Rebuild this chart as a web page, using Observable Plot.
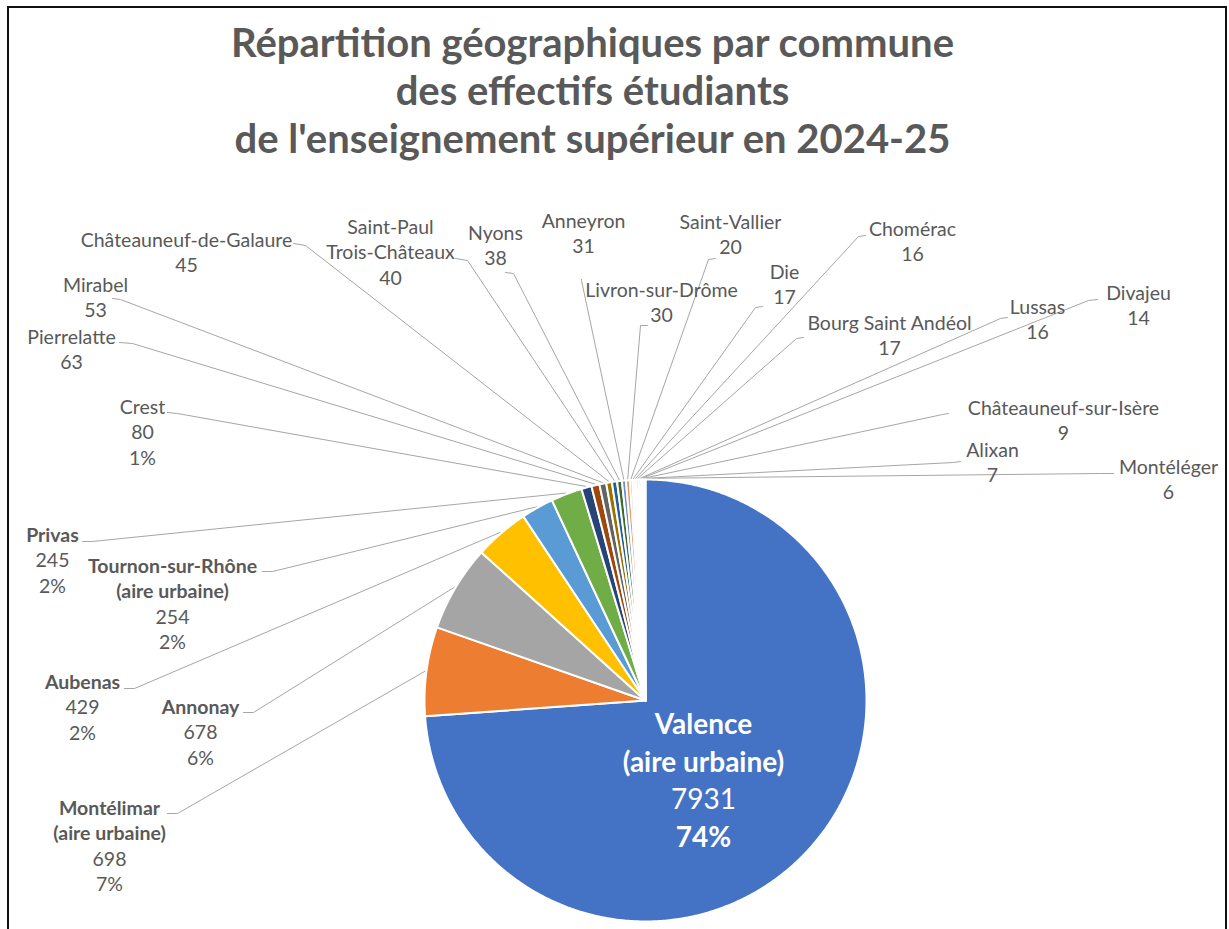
<!DOCTYPE html>
<html><head><meta charset="utf-8">
<script src="https://cdn.jsdelivr.net/npm/d3@7"></script>
<script src="https://cdn.jsdelivr.net/npm/@observablehq/plot@0.6"></script>
<style>
body{margin:0;background:#fff;font-family:Lato,sans-serif;}
#wrap{position:relative;width:1229px;height:929px;overflow:hidden;background:#fff;}
#frame{position:absolute;left:7px;top:6px;width:1220px;height:1000px;border:2px solid #111;box-sizing:border-box;pointer-events:none;}
h1{margin:0;padding:18px 44px 0 0;height:147px;text-align:center;font:700 40px/48px Lato,sans-serif;color:#595959;}
#chart svg{display:block;}
</style></head>
<body><div id="wrap"><h1>Répartition géographiques par commune<br>des effectifs étudiants<br>de l'enseignement supérieur en 2024-25</h1><div id="chart"></div><div id="frame"></div></div>
<script>
// ---- data ----
const communes = ["Valence\n(aire urbaine)", "Montélimar\n(aire urbaine)", "Annonay", "Aubenas", "Tournon-sur-Rhône\n(aire urbaine)", "Privas", "Crest", "Pierrelatte", "Mirabel", "Châteauneuf-de-Galaure", "Saint-Paul\nTrois-Châteaux", "Nyons", "Anneyron", "Livron-sur-Drôme", "Saint-Vallier", "Die", "Chomérac", "Bourg Saint Andéol", "Lussas", "Divajeu", "Châteauneuf-sur-Isère", "Alixan", "Montéléger"];
const effectifs = [7931, 698, 678, 429, 254, 245, 80, 63, 53, 45, 40, 38, 31, 30, 20, 17, 16, 17, 16, 14, 9, 7, 6];
const percentLabels = ["74%", "7%", "6%", "2%", "2%", "2%", "1%", "", "", "", "", "", "", "", "", "", "", "", "", "", "", "", ""];
const boldNames = [true, true, true, true, true, true, false, false, false, false, false, false, false, false, false, false, false, false, false, false, false, false, false];

// ---- styles ----
const palette = ["#4472C4", "#ED7D31", "#A5A5A5", "#FFC000", "#5B9BD5", "#70AD47", "#264478", "#9E480E", "#636363", "#997300", "#255E91", "#43682B", "#698ED0", "#F1975A", "#B7B7B7", "#FFCD33", "#7CAFDD", "#8CC168", "#335AA1", "#D26012", "#848484", "#CC9A00", "#3A7DC0"];
const textColor = "#595959";

// ---- layout (page pixels) ----
const W = 1229, H = 764, TOP = 165;
const CX = 645, CY = 700, R = 221;
const labelX = [703, 109, 200, 82, 172, 52, 142, 71, 95, 186, 390, 495, 583, 661, 730, 784, 912, 889, 1037, 1138, 1063, 992, 1168];
const labelY = [725, 808, 707, 682, 566, 535, 407, 337, 285, 240, 227, 233, 221, 290, 222, 272, 229, 323, 307, 293, 408, 450, 467];
const leaderStart = [null, [167, 813], [243, 712], [124, 688], [262, 571], [82, 541], [167, 412], [119, 342], [112, 298], [293, 243], [455, 258], [505, 272], [581, 279], [647, 325], [715, 258], [762, 306], [865, 235], [803, 337], [1007, 317], [1097, 299], [948, 413], [960, 461], [1113, 473]];
const leaderElbow = [null, [177, 813], [253, 712], [134, 688], [272, 571], [92, 541], [177, 413], [132, 343], [120, 299], [305, 245], [467, 260], [513, 273], [581, 280], [640, 325], [708, 259], [755, 307], [858, 236], [796, 338], [1000, 318], [1088, 300], [942, 414], [953, 462], [1100, 473]];

const px = x => x - CX, py = y => CY - y;

// ---- slices ----
const arcs = d3.pie().sort(null).value(d => d)(effectifs);
const slicePts = [];
arcs.forEach((a, i) => {
  const k = communes[i];
  const n = Math.max(2, Math.ceil((a.endAngle - a.startAngle) / (Math.PI / 360)));
  slicePts.push({k, x: 0, y: 0});
  for (let j = 0; j <= n; j++) {
    const t = a.startAngle + (a.endAngle - a.startAngle) * j / n;
    slicePts.push({k, x: R * Math.sin(t), y: R * Math.cos(t)});
  }
  slicePts.push({k, x: 0, y: 0});
});

// ---- leaders ----
const leaderPts = [];
arcs.forEach((a, i) => {
  if (!leaderStart[i]) return;
  const k = communes[i];
  const m = (a.startAngle + a.endAngle) / 2;
  leaderPts.push({k, x: R * 1.005 * Math.sin(m), y: R * 1.005 * Math.cos(m)});
  leaderPts.push({k, x: px(leaderElbow[i][0]), y: py(leaderElbow[i][1])});
  leaderPts.push({k, x: px(leaderStart[i][0]), y: py(leaderStart[i][1])});
});

// ---- labels ----
const rows = [];
communes.forEach((c, i) => {
  const big = i === 0;
  const lh = big ? 37.5 : 25.5;
  const lines = c.split("\n").map(t => ({t, w: boldNames[i] ? "bold" : "normal"}));
  lines.push({t: String(effectifs[i]), w: "normal"});
  if (percentLabels[i]) lines.push({t: percentLabels[i], w: big ? "bold" : "normal"});
  lines.forEach((l, j) => rows.push({x: px(labelX[i]), y: py(labelY[i] + j * lh), text: l.t, weight: l.w, big}));
});
const textMark = (filter, opts) => Plot.text(rows.filter(filter), {x: "x", y: "y", text: "text", textAnchor: "middle", lineAnchor: "middle", fontFamily: "Lato, sans-serif", ...opts});

const chart = Plot.plot({
  width: W, height: H,
  margin: 0,
  x: {domain: [-CX, W - CX], axis: null},
  y: {domain: [CY - TOP - H, CY - TOP], axis: null},
  color: {domain: communes, range: palette},
  style: {background: "transparent"},
  marks: [
    Plot.line(leaderPts, {x: "x", y: "y", z: "k", stroke: "#a6a6a6", strokeWidth: 1}),
    Plot.line(slicePts, {x: "x", y: "y", z: "k", fill: "k", stroke: "white", strokeWidth: 2, strokeLinejoin: "round"}),
    textMark(d => !d.big && d.weight === "bold", {fill: textColor, fontSize: 19.5, fontWeight: "bold"}),
    textMark(d => !d.big && d.weight === "normal", {fill: textColor, fontSize: 19.5}),
    textMark(d => d.big && d.weight === "bold", {fill: "white", fontSize: 28, fontWeight: "bold"}),
    textMark(d => d.big && d.weight === "normal", {fill: "white", fontSize: 28})
  ]
});
document.getElementById("chart").appendChild(chart);
</script>
</body></html>
